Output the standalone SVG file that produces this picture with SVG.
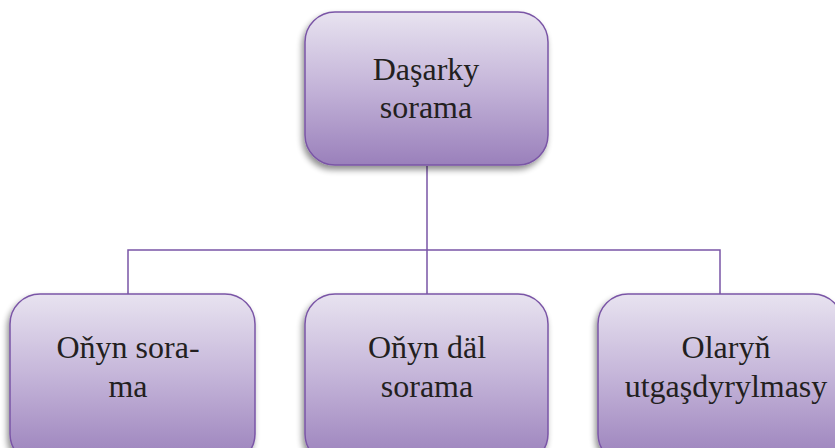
<svg xmlns="http://www.w3.org/2000/svg" width="835" height="448" viewBox="0 0 835 448">
<defs>
<linearGradient id="g" x1="0" y1="0" x2="0" y2="1">
<stop offset="0" stop-color="#e8e3f0"/>
<stop offset="0.5" stop-color="#c3b3d8"/>
<stop offset="1" stop-color="#9a80bb"/>
</linearGradient>
<filter id="sh" x="-20%" y="-20%" width="140%" height="140%">
<feGaussianBlur in="SourceAlpha" stdDeviation="3"/>
<feOffset dx="-2" dy="4"/>
<feComponentTransfer><feFuncA type="linear" slope="0.45"/></feComponentTransfer>
<feMerge><feMergeNode/><feMergeNode in="SourceGraphic"/></feMerge>
</filter>
<style>
.box{fill:url(#g);stroke:#7a55a6;stroke-width:1.5;filter:url(#sh)}
.c{fill:none;stroke:#7a55a6;stroke-width:1.5}
</style>
</defs>
<rect width="835" height="448" fill="#ffffff"/>
<g id="connectors">
<path class="c" d="M427 166V250M128 294V250H720V294M427 250V294"/>
</g>
<g id="top">
<rect class="box" x="305" y="12" width="243" height="153" rx="30"/>
<text x="426" y="80" fill="#231f20" text-anchor="middle" font-family="Times New Roman, Liberation Serif, serif" font-size="32">Daşarky</text>
<text x="426" y="118" fill="#231f20" text-anchor="middle" font-family="Times New Roman, Liberation Serif, serif" font-size="32">sorama</text>
</g>
<g id="left">
<rect class="box" x="10" y="294" width="245" height="170" rx="30"/>
<text x="128" y="358" fill="#231f20" text-anchor="middle" font-family="Times New Roman, Liberation Serif, serif" font-size="32">Oňyn sora-</text>
<text x="128" y="397" fill="#231f20" text-anchor="middle" font-family="Times New Roman, Liberation Serif, serif" font-size="32">ma</text>
</g>
<g id="middle">
<rect class="box" x="305" y="294" width="243" height="170" rx="30"/>
<text x="427" y="358" fill="#231f20" text-anchor="middle" font-family="Times New Roman, Liberation Serif, serif" font-size="32">Oňyn däl</text>
<text x="427" y="397" fill="#231f20" text-anchor="middle" font-family="Times New Roman, Liberation Serif, serif" font-size="32">sorama</text>
</g>
<g id="right">
<rect class="box" x="598" y="294" width="245" height="170" rx="30"/>
<text x="726" y="358" fill="#231f20" text-anchor="middle" font-family="Times New Roman, Liberation Serif, serif" font-size="32">Olaryň</text>
<text x="726" y="397" fill="#231f20" text-anchor="middle" font-family="Times New Roman, Liberation Serif, serif" font-size="32">utgaşdyrylmasy</text>
</g>
</svg>
